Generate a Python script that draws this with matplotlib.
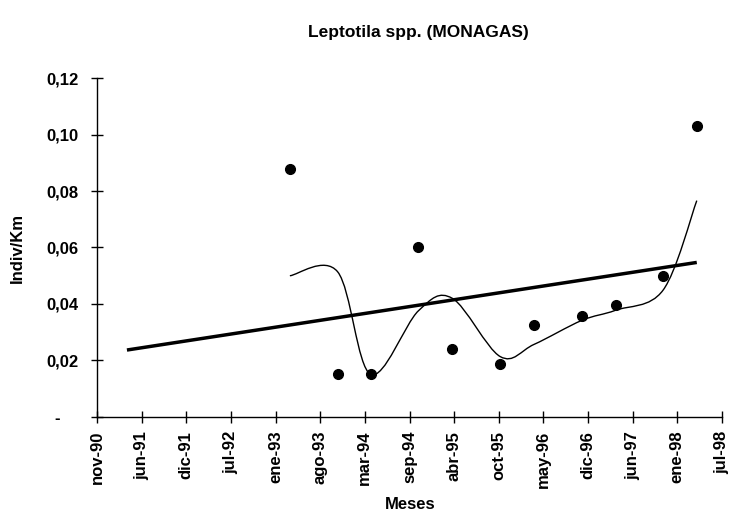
import numpy as np
import pandas as pd
import matplotlib
matplotlib.use("Agg")
import matplotlib.pyplot as plt
import matplotlib.dates as mdates
from matplotlib.path import Path
from matplotlib.patches import PathPatch

plt.rcParams['font.family'] = ['Liberation Sans', 'DejaVu Sans']
plt.rcParams['font.weight'] = 'bold'

# datos
fechas = ["1993-04-05", "1993-11-05", "1994-04-02", "1994-11-02", "1995-04-03",
          "1995-11-03", "1996-04-03", "1996-11-03", "1997-04-04", "1997-11-02",
          "1998-04-02"]
indiv_km = [0.0877, 0.0151, 0.0151, 0.0601, 0.0239, 0.0188, 0.0325, 0.0359,
            0.0397, 0.0500, 0.1031]
# media movil (curva suavizada)
media_movil = [0.0500, 0.0514, 0.0151, 0.0376, 0.0420, 0.0214, 0.0257, 0.0342,
               0.0378, 0.0449, 0.0766]

inicio_eje = "1990-11-23"
paso_dias = 200
etiquetas_x = ["nov-90", "jun-91", "dic-91", "jul-92", "ene-93", "ago-93", "mar-94",
               "sep-94", "abr-95", "oct-95", "may-96", "dic-96", "jun-97", "ene-98",
               "jul-98"]
valores_y = [0, 0.02, 0.04, 0.06, 0.08, 0.10, 0.12]
etiquetas_y = ["-    ", "0,02", "0,04", "0,06", "0,08", "0,10", "0,12"]

x = mdates.date2num(pd.to_datetime(fechas).to_pydatetime())
y = np.array(indiv_km)
ym = np.array(media_movil)
x0 = mdates.date2num(pd.Timestamp(inicio_eje).to_pydatetime())

fig = plt.figure(figsize=(7.29, 5.16), dpi=100)
ax = fig.add_axes([0.1331, 0.1919, 0.8573, 0.6569])

# tendencia lineal (pronostico hacia atras de 730 dias)
m, b = np.polyfit(x, y, 1)
xt = np.array([x[0] - 730, x[-1]])
ax.plot(xt, m * xt + b, color='black', lw=2.5, solid_capstyle='butt', zorder=2)

# curva suavizada tipo Excel (bezier)
pts = np.column_stack([x, ym])
verts = [pts[0]]
codes = [Path.MOVETO]
n = len(pts)
for i in range(n - 1):
    p0 = pts[i - 1] if i > 0 else pts[i]
    p1 = pts[i]
    p2 = pts[i + 1]
    p3 = pts[i + 2] if i + 2 < n else pts[i + 1]
    c1 = p1 + (p2 - p0) / 6
    c2 = p2 - (p3 - p1) / 6
    verts += [c1, c2, p2]
    codes += [Path.CURVE4] * 3
ax.add_patch(PathPatch(Path(verts, codes), fill=False, lw=1.0, edgecolor='black', zorder=3))

ax.plot(x, y, 'o', color='black', ms=7, zorder=4)

ticks_x = [x0 + paso_dias * k for k in range(len(etiquetas_x))]
ax.set_xlim(ticks_x[0], ticks_x[-1])
ax.set_xticks(ticks_x)
ax.set_xticklabels(etiquetas_x, rotation=90, fontsize=12, fontweight='bold')
ax.set_ylim(0, 0.12)
ax.set_yticks(valores_y)
ax.set_yticklabels(etiquetas_y, fontsize=12, fontweight='bold')

for s in ['top', 'right']:
    ax.spines[s].set_visible(False)
for s in ['left', 'bottom']:
    ax.spines[s].set_linewidth(1.0)
ax.tick_params(direction='inout', length=8, width=1.0)
ax.tick_params(axis='x', pad=6)
ax.tick_params(axis='y', pad=9)

fig.text(418.5 / 729, 1 - 37 / 516, 'Leptotila spp. (MONAGAS)', ha='center', va='baseline',
         fontsize=12.5, fontweight='bold')
fig.text(410 / 729, 1 - 509 / 516, 'Meses', ha='center', va='baseline',
         fontsize=12, fontweight='bold')
fig.text(17.5 / 729, 1 - 248 / 516, 'Indiv/Km', ha='center', va='center', rotation=90,
         fontsize=12, fontweight='bold')

fig.savefig('out.png', dpi=100)
